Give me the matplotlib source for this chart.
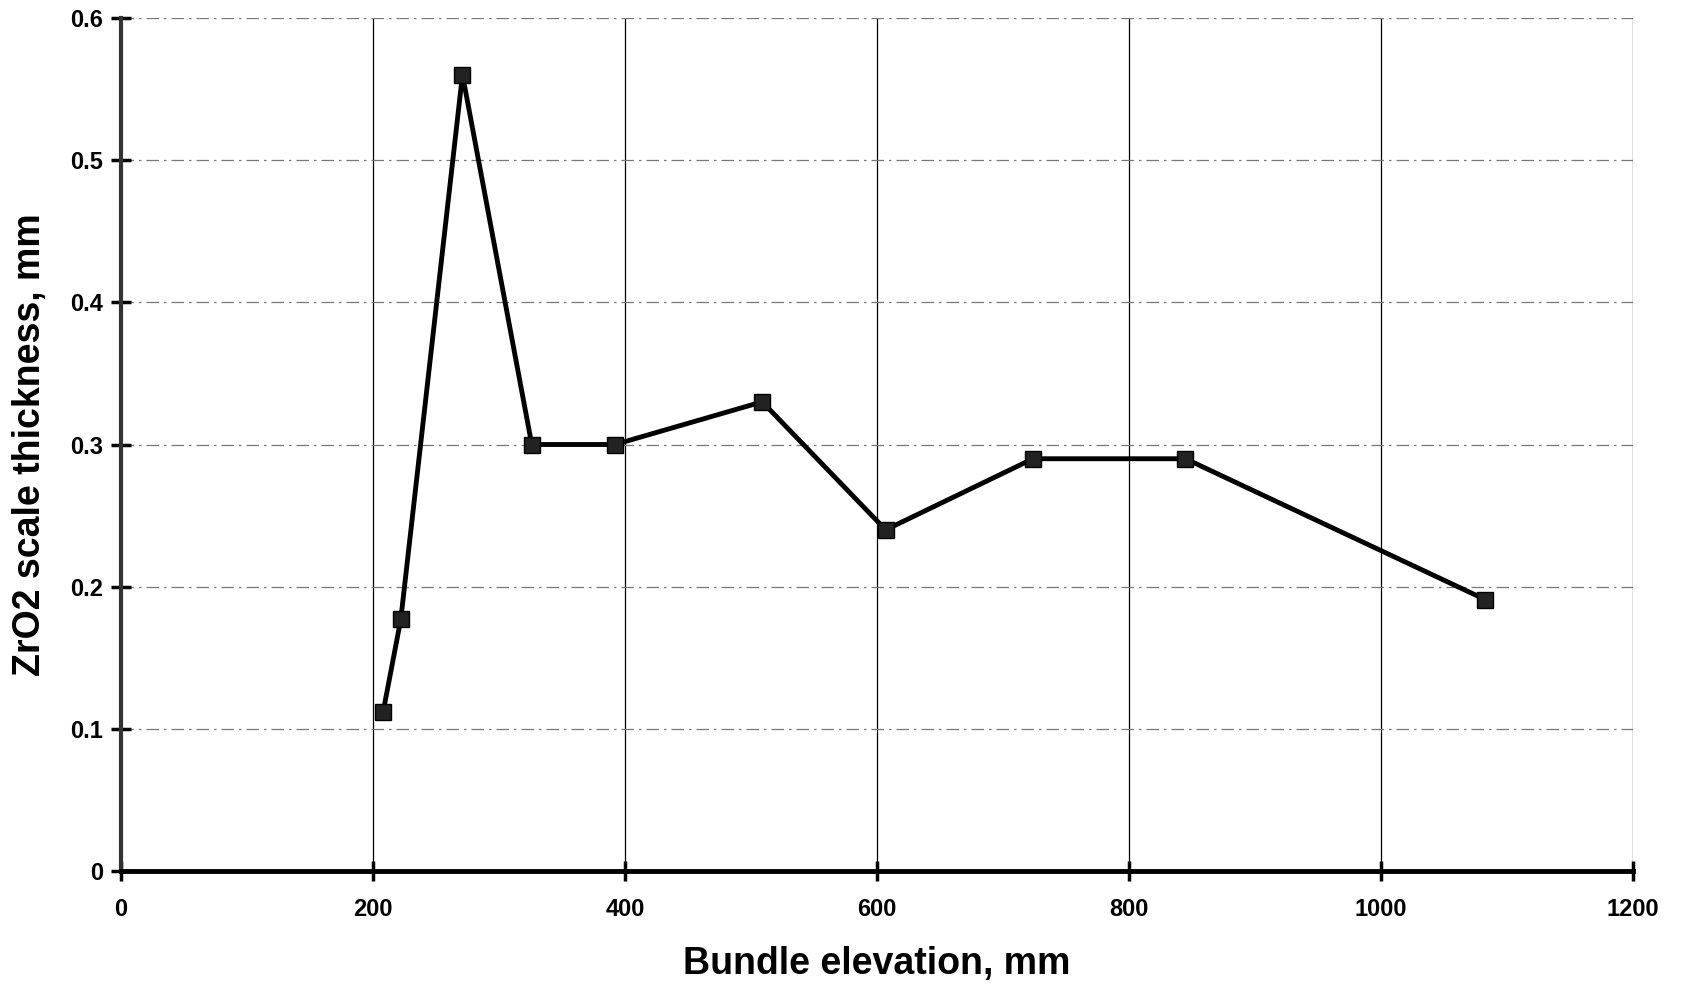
import matplotlib
matplotlib.use("Agg")
import matplotlib.pyplot as plt

plt.rcParams['font.family'] = ['Liberation Sans', 'DejaVu Sans']
plt.rcParams['font.weight'] = 'bold'

# bundle elevation (mm) and ZrO2 scale thickness (mm)
elevation = [208, 222, 271, 326, 392, 509, 607, 724, 845, 1083]
thickness = [0.112, 0.177, 0.56, 0.30, 0.30, 0.33, 0.24, 0.29, 0.29, 0.191]

x_ticks = [0, 200, 400, 600, 800, 1000, 1200]
y_ticks = [0, 0.1, 0.2, 0.3, 0.4, 0.5, 0.6]
y_labels = ['0', '0.1', '0.2', '0.3', '0.4', '0.5', '0.6']

fig = plt.figure(figsize=(16.83, 9.9), dpi=100)
ax = fig.add_axes([0.072, 0.12, 0.898, 0.862])

ax.plot(elevation, thickness, color='black', lw=3.5, marker='s', ms=11,
        mfc='#222222', mec='black', zorder=3)

ax.set_xlim(0, 1200)
ax.set_ylim(0, 0.6)
ax.set_xticks(x_ticks)
ax.set_yticks(y_ticks)
ax.set_yticklabels(y_labels)

# grid: solid verticals, dash-dot horizontals
ax.xaxis.grid(True, color='black', lw=0.9, ls='-')
ax.yaxis.grid(True, color='#777777', lw=0.9, ls=(0, (10, 4, 2, 4)))

for s in ['top', 'right']:
    ax.spines[s].set_visible(False)
ax.spines['left'].set_linewidth(3)
ax.spines['left'].set_color('#333333')
ax.spines['bottom'].set_linewidth(3.5)

ax.tick_params(axis='both', direction='inout', length=14, width=2.5,
               labelsize=17, pad=12)
ax.tick_params(axis='y', pad=6)

ax.set_xlabel('Bundle elevation, mm', fontsize=27, fontweight='bold', labelpad=18)
ax.set_ylabel('ZrO2 scale thickness, mm', fontsize=27, fontweight='bold', labelpad=16)

fig.savefig('out.png', dpi=100)
